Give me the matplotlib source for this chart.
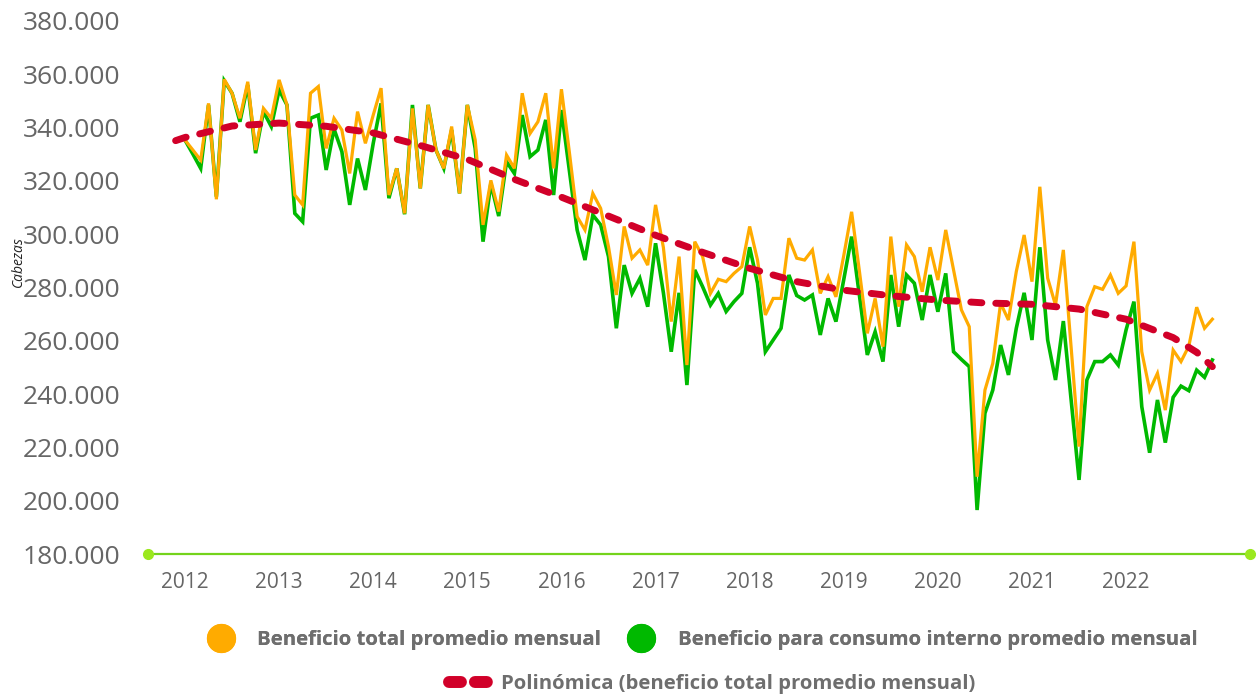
import numpy as np
import matplotlib
matplotlib.use("Agg")
import matplotlib.pyplot as plt
from matplotlib.lines import Line2D
from matplotlib.ticker import FuncFormatter

plt.rcParams['font.family'] = ['Open Sans', 'DejaVu Sans']

# monthly values, thousand heads, Jan 2012 .. Dec 2022
total = [
    335.3, 331.6, 327.8, 349.1, 313.1, 358.1, 352.9, 343.5, 357.2, 331.6, 347.2, 343.5,
    357.9, 348.5, 314.7, 311.0, 352.9, 355.4, 332.2, 343.5, 339.1, 322.8, 346.0, 334.1,
    344.7, 354.8, 314.7, 324.7, 307.8, 347.2, 317.2, 348.5, 331.6, 324.7, 340.4, 315.3,
    348.5, 335.4, 303.5, 320.2, 308.5, 329.7, 324.7, 352.9, 337.8, 342.2, 352.9, 324.7,
    354.4, 331.0, 306.6, 301.6, 315.3, 309.7, 295.3, 277.2, 302.9, 291.0, 294.1, 288.4,
    311.0, 295.0, 267.2, 291.6, 250.9, 297.2, 291.6, 277.8, 283.1, 282.2, 285.3, 287.8,
    302.9, 290.3, 269.7, 275.9, 275.9, 298.5, 291.0, 290.3, 294.1, 277.8, 284.1, 276.5,
    292.0, 308.4, 286.0, 262.8, 275.9, 257.8, 299.1, 272.8, 296.0, 291.6, 278.4, 295.1,
    282.8, 301.6, 286.6, 271.6, 265.3, 209.0, 241.5, 251.5, 274.1, 267.8, 286.0, 299.7,
    282.2, 317.8, 283.5, 273.4, 294.1, 257.2, 220.3, 272.8, 280.3, 279.3, 284.7, 277.8,
    280.6, 297.2, 255.9, 241.5, 247.8, 234.0, 256.5, 252.2, 258.0, 272.6, 264.7, 268.1,
]
interno = [
    335.3, 330.1, 324.7, 348.5, 314.1, 357.6, 352.9, 342.2, 356.0, 330.4, 346.0, 340.4,
    354.1, 348.5, 307.8, 304.7, 343.5, 344.7, 324.1, 339.5, 331.0, 311.0, 328.4, 316.6,
    334.1, 349.1, 313.5, 324.7, 307.5, 348.5, 317.2, 348.5, 331.6, 324.7, 339.1, 315.3,
    348.5, 332.2, 297.2, 319.0, 306.8, 327.2, 322.8, 344.7, 329.1, 331.6, 342.9, 314.7,
    346.6, 324.1, 301.6, 290.3, 307.2, 303.5, 291.6, 264.7, 288.4, 277.8, 283.4, 272.8,
    296.6, 278.0, 255.9, 278.0, 243.4, 286.6, 280.3, 273.4, 277.8, 271.0, 274.7, 277.8,
    295.1, 281.6, 255.9, 260.3, 264.7, 284.7, 277.0, 275.3, 277.2, 262.2, 275.9, 267.2,
    283.0, 299.1, 277.0, 254.7, 263.4, 252.2, 284.7, 265.3, 284.7, 281.6, 267.8, 284.7,
    270.9, 285.3, 255.9, 253.0, 250.3, 196.5, 232.8, 241.5, 258.4, 247.2, 264.7, 278.0,
    260.3, 295.1, 260.3, 245.3, 267.4, 237.8, 207.8, 245.3, 252.2, 252.2, 254.7, 250.9,
    264.1, 274.7, 235.3, 218.0, 237.8, 221.8, 238.8, 243.0, 241.3, 249.0, 246.3, 252.8,
]
# polynomial trendline as drawn in the source (month index, thousand heads)
trend_month = [-1.2, 0, 6, 12, 18, 24, 30, 36, 42, 48, 54, 60, 66, 72, 78, 84, 90,
               96, 102, 108, 114, 120, 126, 129, 131]
trend_val = [335.1, 336.3, 340.6, 341.7, 340.5, 338.0, 333.3, 328.1, 320.6, 313.9,
             306.8, 299.6, 293.2, 287.2, 282.2, 279.0, 276.9, 275.3, 274.2, 273.7,
             271.9, 268.1, 261.2, 255.7, 250.3]
years = [str(y) for y in range(2012, 2023)]

total = np.array(total) * 1000
interno = np.array(interno) * 1000
trend_val = np.array(trend_val) * 1000
months = np.arange(len(total))

ORANGE = '#FFAB00'
GREEN = '#00B900'
RED = '#D10029'
AXIS_GREEN = '#74D31C'
GREY = '#666666'

fig = plt.figure(figsize=(12.58, 6.96), dpi=100)
ax = fig.add_axes([148 / 1258, 1 - 554 / 696, (1250 - 148) / 1258, (554 - 21) / 696])

ax.plot(months, interno, color=GREEN, lw=2.6, solid_joinstyle='miter', zorder=2)
ax.plot(months, total, color=ORANGE, lw=2.3, solid_joinstyle='miter', zorder=3)
ax.plot(trend_month, trend_val, color=RED, lw=5, dashes=(1.6, 2.0),
        dash_capstyle='round', solid_joinstyle='round', zorder=4)

ax.set_ylim(180000, 380000)
ax.set_xlim(-4.72, 135.8)
ax.set_yticks(np.arange(180000, 380001, 20000))
ax.yaxis.set_major_formatter(FuncFormatter(lambda v, _: f"{v:,.0f}".replace(",", ".")))
ax.set_xticks(np.arange(0, 121, 12))
ax.set_xticklabels(years)
ax.tick_params(axis='y', length=0, pad=20, labelsize=19, labelcolor=GREY)
ax.tick_params(axis='x', length=0, pad=13, labelsize=15, labelcolor=GREY)

for s in ['top', 'right', 'left']:
    ax.spines[s].set_visible(False)
ax.spines['bottom'].set_color(AXIS_GREEN)
ax.spines['bottom'].set_linewidth(1.6)
ax.plot([0, 1], [0, 0], 'o', color='#9BE81E', ms=7, transform=ax.transAxes,
        clip_on=False, zorder=5)

fig.text(18 / 1258, 1 - 262 / 696, 'Cabezas', rotation=90, ha='center', va='center',
         style='italic', fontsize=10, color='#222222')

h1 = [Line2D([], [], ls='none', marker='o', ms=20, color=ORANGE),
      Line2D([], [], ls='none', marker='o', ms=20, color=GREEN)]
leg1 = fig.legend(h1, ['Beneficio total promedio mensual',
                       'Beneficio para consumo interno promedio mensual'],
                  loc='center', bbox_to_anchor=(703 / 1258, 1 - 640 / 696), ncol=2,
                  frameon=False, handlelength=1.2, handletextpad=1.2, columnspacing=1.4,
                  prop={'weight': 'bold', 'size': 14.6}, labelcolor='#6E6E6E')
h2 = [Line2D([], [], color=RED, lw=8.6, dashes=(1.0, 1.17), dash_capstyle='round')]
fig.legend(h2, ['Polinómica (beneficio total promedio mensual)'],
           loc='center', bbox_to_anchor=(712 / 1258, 1 - 684 / 696),
           frameon=False, handlelength=1.9, handletextpad=0.65,
           prop={'weight': 'bold', 'size': 14.6}, labelcolor='#6E6E6E')
fig.add_artist(leg1)

fig.savefig('out.png', dpi=100)
